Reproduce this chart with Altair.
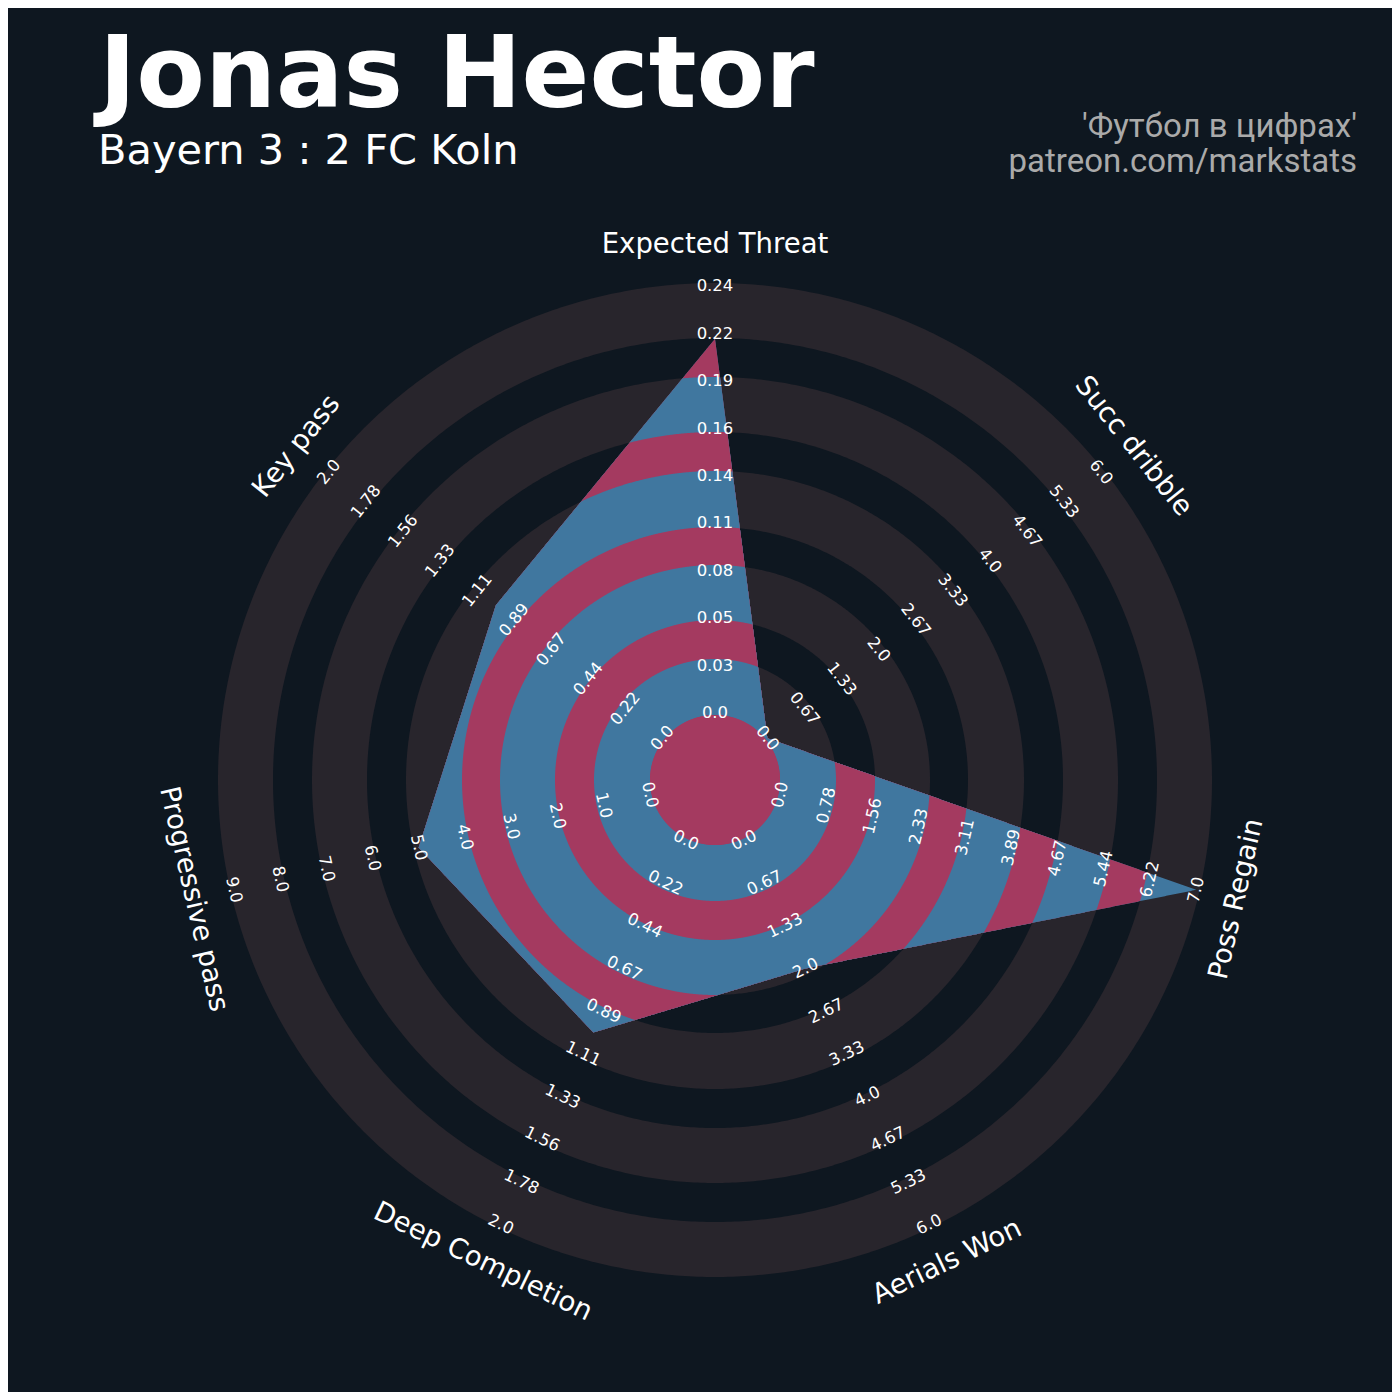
import math
import numpy as np
import pandas as pd
import altair as alt

# ---------------- data ----------------
params = ["Expected Threat", "Succ dribble", "Poss Regain", "Aerials Won",
          "Deep Completion", "Progressive pass", "Key pass"]
values = [0.214, 0.0, 7.0, 2.0, 1.0, 5.0, 1.0]
low = [0.0, 0.0, 0.0, 0.0, 0.0, 0.0, 0.0]
high = [0.244, 6.0, 7.0, 6.0, 2.0, 9.0, 2.0]
labels_xt = ["0.0", "0.03", "0.05", "0.08", "0.11", "0.14", "0.16", "0.19", "0.22", "0.24"]
labels_dribble = ["0.0", "0.67", "1.33", "2.0", "2.67", "3.33", "4.0", "4.67", "5.33", "6.0"]
labels_regain = ["0.0", "0.78", "1.56", "2.33", "3.11", "3.89", "4.67", "5.44", "6.22", "7.0"]
labels_aerials = ["0.0", "0.67", "1.33", "2.0", "2.67", "3.33", "4.0", "4.67", "5.33", "6.0"]
labels_deep = ["0.0", "0.22", "0.44", "0.67", "0.89", "1.11", "1.33", "1.56", "1.78", "2.0"]
labels_prog = ["0.0", "1.0", "2.0", "3.0", "4.0", "5.0", "6.0", "7.0", "8.0", "9.0"]
labels_key = ["0.0", "0.22", "0.44", "0.67", "0.89", "1.11", "1.33", "1.56", "1.78", "2.0"]
range_labels = [labels_xt, labels_dribble, labels_regain, labels_aerials,
                labels_deep, labels_prog, labels_key]

title = "Jonas Hector"
subtitle = "Bayern 3 : 2 FC Koln"
credit1 = "'Футбол в цифрах'"
credit2 = "patreon.com/markstats"

# ---------------- layout ----------------
CX, CY = 715.0, 780.0
R_LOW, R_STEP = 67.0, 47.4          # radius of value 'low' and per-ring step
RINGS = [497, 442, 403, 348, 309, 253, 215, 160, 121, 65]
BG = "#0e1720"
RING = "#28252c"
BLUE = "#40779f"
PINK = "#a43a60"
LABEL_R = 535.0

n = len(params)
angles = [2 * math.pi * j / n for j in range(n)]

X = alt.X("x:Q", scale=alt.Scale(domain=[8, 1392], nice=False, zero=False), axis=None)
Y = alt.Y("y:Q", scale=alt.Scale(domain=[8, 1392], nice=False, zero=False, reverse=True), axis=None)


def shape_layer(xs, ys, color):
    df = pd.DataFrame({"x": xs, "y": ys, "i": np.arange(len(xs))})
    return alt.Chart(df).mark_line(fill=color, strokeWidth=0, interpolate="linear").encode(
        x=X, y=Y, order=alt.Order("i:Q"))


layers = []

# background rings (painted from outside in)
th = np.linspace(0, 2 * np.pi, 721)
for idx, r in enumerate(RINGS):
    col = RING if idx % 2 == 0 else BG
    if idx == len(RINGS) - 1:
        col = RING
    layers.append(shape_layer(CX + r * np.sin(th), CY - r * np.cos(th), col))

# radar polygon vertices
verts = []
for j in range(n):
    frac = (values[j] - low[j]) / (high[j] - low[j])
    r = R_LOW + frac * 9 * R_STEP
    verts.append((r * math.sin(angles[j]), r * math.cos(angles[j])))

pts = []
for j in range(n):
    x0, y0 = verts[j]
    x1, y1 = verts[(j + 1) % n]
    for t in np.linspace(0, 1, 300, endpoint=False):
        pts.append((x0 + (x1 - x0) * t, y0 + (y1 - y0) * t))
pts.append(pts[0])
pts = np.array(pts)
rad = np.hypot(pts[:, 0], pts[:, 1])

for idx, r in enumerate(RINGS):
    col = BLUE if idx % 2 == 0 else PINK
    if idx == len(RINGS) - 1:
        col = PINK
    scale = np.where(rad > r, r / np.maximum(rad, 1e-9), 1.0)
    px = pts[:, 0] * scale
    py = pts[:, 1] * scale
    layers.append(shape_layer(CX + px, CY - py, col))

# inner circle (pink)
layers.append(shape_layer(CX + RINGS[-1] * np.sin(th), CY - RINGS[-1] * np.cos(th), PINK))


def rot_for(j):
    d = math.degrees(angles[j])
    if 90 < d < 270:
        d -= 180
    return d % 360


# range labels
rows = []
for j in range(n):
    for k, lab in enumerate(range_labels[j]):
        r = R_LOW + k * R_STEP
        rows.append({"x": CX + r * math.sin(angles[j]), "y": CY - r * math.cos(angles[j]),
                     "t": lab, "a": rot_for(j)})
layers.append(alt.Chart(pd.DataFrame(rows)).mark_text(
    font="DejaVu Sans", fontSize=16.5, color="#ffffff", align="center", baseline="middle"
).encode(x=X, y=Y, text="t:N", angle=alt.Angle("a:Q", scale=None)))

# parameter labels
rows = []
for j in range(n):
    rows.append({"x": CX + LABEL_R * math.sin(angles[j]), "y": CY - LABEL_R * math.cos(angles[j]),
                 "t": params[j], "a": rot_for(j)})
layers.append(alt.Chart(pd.DataFrame(rows)).mark_text(
    font="DejaVu Sans", fontSize=27.5, color="#ffffff", align="center", baseline="middle"
).encode(x=X, y=Y, text="t:N", angle=alt.Angle("a:Q", scale=None)))

# titles
layers.append(alt.Chart(pd.DataFrame({"x": [99], "y": [107], "t": [title]})).mark_text(
    font="DejaVu Sans", fontSize=100, fontWeight="bold", color="#ffffff",
    align="left", baseline="alphabetic").encode(x=X, y=Y, text="t:N"))
layers.append(alt.Chart(pd.DataFrame({"x": [98], "y": [164], "t": [subtitle]})).mark_text(
    font="DejaVu Sans", fontSize=41.5, color="#ffffff",
    align="left", baseline="alphabetic").encode(x=X, y=Y, text="t:N"))
layers.append(alt.Chart(pd.DataFrame({"x": [1357, 1357], "y": [137, 172], "t": [credit1, credit2]})).mark_text(
    font="Roboto", fontSize=33, color="#aaaaaa",
    align="right", baseline="alphabetic").encode(x=X, y=Y, text="t:N"))

chart = alt.layer(*layers).properties(
    width=1384, height=1384, padding=0, autosize=alt.AutoSizeParams(type="none"),
    background=BG
).configure_view(strokeWidth=0)

chart.save("out.html", embed_options={"renderer": "svg", "actions": False})
